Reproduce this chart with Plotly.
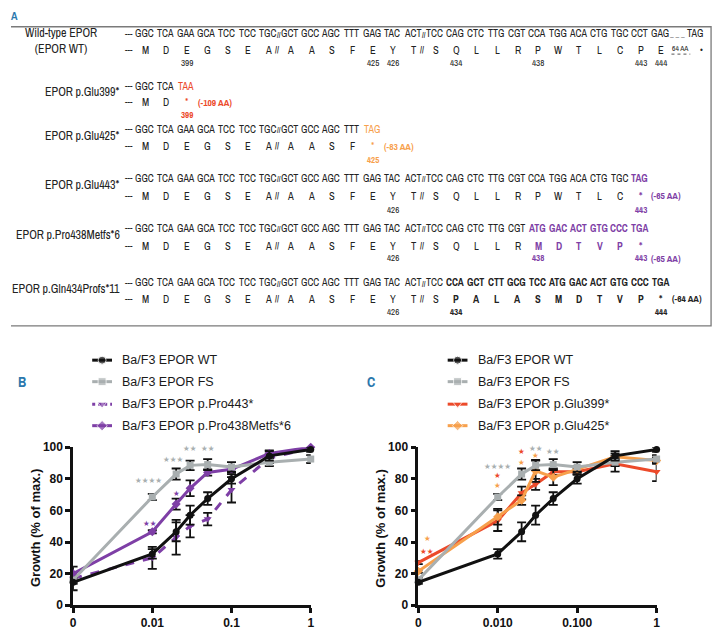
import math
import plotly.graph_objects as go

W, H = 722, 638
OFF = 8                      # default page margin of the html body
FW, FH = W - OFF, H - OFF    # figure size so the page fits the window

# ---------------- Panel A data ----------------
WT_CODONS = ["GGC", "TCA", "GAA", "GCA", "TCC", "TCC", "TGC", "GCT", "GCC", "AGC", "TTT", "GAG", "TAC",
             "ACT", "TCC", "CAG", "CTC", "TTG", "CGT", "CCA", "TGG", "ACA", "CTG", "TGC", "CCT", "GAG"]
WT_AA = ["M", "D", "E", "G", "S", "E", "A", "A", "A", "S", "F", "E", "Y",
         "T", "S", "Q", "L", "L", "R", "P", "W", "T", "L", "C", "P", "E"]
WT_RESIDUES = [397, 398, 399, 400, 401, 402, 403, 421, 422, 423, 424, 425, 426,
               427, 433, 434, 435, 436, 437, 438, 439, 440, 441, 442, 443, 444]

ROW_LABELS = ["Wild-type EPOR<br>(EPOR WT)", "EPOR p.Glu399*", "EPOR p.Glu425*", "EPOR p.Glu443*",
              "EPOR p.Pro438Metfs*6", "EPOR p.Gln434Profs*11"]
ROW_KEEP = [26, 2, 11, 24, 19, 15]
ROW_MUT_CODONS = [[], ["TAA"], ["TAG"], ["TAG"],
                  ["ATG", "GAC", "ACT", "GTG", "CCC", "TGA"],
                  ["CCA", "GCT", "CTT", "GCG", "TCC", "ATG", "GAC", "ACT", "GTG", "CCC", "TGA"]]
ROW_MUT_AA = [[], ["*"], ["*"], ["*"],
              ["M", "D", "T", "V", "P", "*"],
              ["P", "A", "L", "A", "S", "M", "D", "T", "V", "P", "*"]]
ROW_NUMBERS = [[399, 425, 426, 434, 438, 443, 444], [399], [425], [426, 443], [426, 438, 443], [426, 434, 444]]
ROW_LOSS = ["", "(-109 AA)", "(-83 AA)", "(-65 AA)", "(-65 AA)", "(-64 AA)"]

# ---------------- Panels B / C data ----------------
DOSES = [0, 0.01, 0.02, 0.03, 0.05, 0.1, 0.3, 1]
WT = [14.5, 32.5, 46.5, 57, 67.5, 80, 94.5, 98.5]
WT_ERR = [1, 3, 6, 6, 4, 3, 3, 1.5]
FS = [16, 68.5, 83, 88.5, 89, 87.5, 90.5, 92.5]
FS_ERR = [1.5, 2, 3.5, 3, 3.5, 3, 2.5, 2.5]
PRO443 = [17, 30, 43, 50, 54.5, 73, 93, 99.5]
PRO443_ERR = [7.5, 7, 11, 7, 4, 8, 3, 1.5]
PRO438 = [20, 46.5, 64, 74, 84, 86, 96, 100]
PRO438_ERR = [1, 1, 3.5, 5, 2, 2, 2, 1]
GLU399 = [27, 53.5, 71, 76.5, 84.5, 84.5, 89.5, 84.5]
GLU399_ERR = [1, 6.5, 4, 3.5, 2, 2, 5, 6]
GLU425 = [21.5, 56, 66.5, 85, 81, 86, 94, 91.5]
GLU425_ERR = [1, 5, 3, 7, 5, 2, 2, 2]

# significance marks: (dose, y-value, text, colour key)
STARS_B = [(0.009, 79, "★★★★", "fs"), (0.018, 92, "★★★", "fs"), (0.03, 99, "★★", "fs"),
           (0.05, 99, "★★", "fs"), (0.02, 71, "★", "pur"), (0.0093, 52, "★★", "pur")]
STARS_C = [(0.01, 88, "★★★★", "fs"), (0.01, 82, "★", "red"), (0.01, 76, "★", "org"),
           (0.02, 104, "★★★", "fs"), (0.02, 97, "★", "red"), (0.02, 90.5, "★", "org"),
           (0.03, 99, "★★", "fs"), (0.03, 94.5, "★", "org"), (0.05, 97, "★★", "fs"),
           (0.0013, 42, "★", "org"), (0.0013, 34, "★★", "red")]

ZERO_POS = 0.001  # where dose 0 is drawn on the log axis

COL = {"wt": "#111111", "fs": "#a9afb0", "pur": "#7e3fa6", "red": "#ec4a2a", "org": "#f7a04c"}
BLUE = "#2b78ad"
DARK = "#222222"
FONT_A = "Archivo Narrow, Liberation Sans Narrow, Liberation Sans, Arial, sans-serif"
FONT_B = "Liberation Sans, Arial, sans-serif"


def dx(px):
    return (px - OFF) / FW


def dy(py):
    return 1 - (py - OFF) / FH


xd = [d if d > 0 else ZERO_POS for d in DOSES]

fig = go.Figure()

SERIES_B = [("Ba/F3 EPOR p.Pro443*", PRO443, PRO443_ERR, "pur", "triangle-down", "dash"),
            ("Ba/F3 EPOR p.Pro438Metfs*6", PRO438, PRO438_ERR, "pur", "diamond", "solid"),
            ("Ba/F3 EPOR FS", FS, FS_ERR, "fs", "square", "solid"),
            ("Ba/F3 EPOR WT", WT, WT_ERR, "wt", "circle", "solid")]
SERIES_C = [("Ba/F3 EPOR p.Glu399*", GLU399, GLU399_ERR, "red", "triangle-down", "solid"),
            ("Ba/F3 EPOR p.Glu425*", GLU425, GLU425_ERR, "org", "diamond", "solid"),
            ("Ba/F3 EPOR FS", FS, FS_ERR, "fs", "square", "solid"),
            ("Ba/F3 EPOR WT", WT, WT_ERR, "wt", "circle", "solid")]

for series, xa, ya in [(SERIES_B, "x", "y"), (SERIES_C, "x2", "y2")]:
    for name, vals, err, ck, sym, dash in series:
        fig.add_trace(go.Scatter(
            x=xd, y=vals, mode="lines+markers", name=name, xaxis=xa, yaxis=ya,
            line=dict(color=COL[ck], width=3, dash="dash" if dash == "dash" else None),
            marker=dict(color=COL[ck], symbol=sym, size=7),
            error_y=dict(type="data", array=err, visible=True, color="#111111", thickness=1.8, width=4.5),
            cliponaxis=False, showlegend=False, hoverinfo="skip"))

ann = []


def txt(x, y, s, size=10, color=DARK, bold=False, xanchor="center", family=FONT_A, angle=0):
    ann.append(dict(x=x, y=y, xref="x3", yref="y3", text=s, showarrow=False, xanchor=xanchor,
                    yanchor="middle", textangle=angle,
                    font=dict(family=family, size=size, color=color, weight="bold" if bold else "normal")))


# ---------------- Panel A drawing ----------------
def cx(i):
    return 144 + 20.7 * (i - 1) + 1.5 * (i >= 8) + 1.5 * (i >= 15)


ROW_Y = [(27, 44, 57), (81, 97, 110), (125, 142, 156), (175, 193, 207), (226, 244, 257), (282, 298, 312)]
ROW_COL = [DARK, COL["red"], COL["org"], COL["pur"], COL["pur"], DARK]
ROW_BOLD = [False, False, False, True, True, True]

txt(12, 9, "A", size=11, color=BLUE, bold=True)
for r in range(6):
    yc, ya, yn = ROW_Y[r]
    keep = ROW_KEEP[r]
    codons = WT_CODONS[:keep] + ROW_MUT_CODONS[r]
    aas = WT_AA[:keep] + ROW_MUT_AA[r]
    if r == 0:
        txt(20, 35, "Wild-type EPOR<br>(EPOR WT)", size=12, xanchor="left")
    else:
        txt(120, (yc + ya) / 2 - 2, ROW_LABELS[r], size=12, xanchor="right")
    txt(127, yc, "---", size=9)
    txt(127, ya, "---", size=9)
    for i, c in enumerate(codons):
        mut = (i + 1) > keep
        txt(cx(i + 1) - 1, yc, c, size=10, color=ROW_COL[r] if mut else DARK, bold=mut and ROW_BOLD[r])
    for i, a in enumerate(aas):
        mut = (i + 1) > keep
        txt(cx(i + 1), ya, a, size=10.5, color=ROW_COL[r] if mut else DARK, bold=mut and ROW_BOLD[r])
    n = len(codons)
    for sp, need in [(7, 8), (14, 15)]:
        if n >= need:
            txt(cx(sp) + 10.5, yc, "//", size=7.5, bold=True)
            txt(cx(sp) + 8, ya, "//", size=8.5, bold=True)
    for res in ROW_NUMBERS[r]:
        pos = WT_RESIDUES.index(res) + 1
        mut = pos > keep
        txt(cx(pos), yn, str(res), size=9, color=ROW_COL[r] if mut else DARK, bold=mut)
    if ROW_LOSS[r]:
        yl = yn if r == 4 else ya
        txt(cx(n) + 9, yl, ROW_LOSS[r], size=9.5, color=ROW_COL[r], bold=True, xanchor="left")
# WT tail
txt(681, 27, "_ _ _", size=8)
txt(699, 27, "TAG", size=10)
txt(684, 42, "64 AA", size=7.5)
txt(705, 44, "•", size=10)

shapes = [dict(type="rect", xref="x3", yref="y3", x0=5, y0=20, x1=715, y1=326,
               line=dict(color="#7a7a7a", width=1.3)),
          dict(type="line", xref="x3", yref="y3", x0=675, x1=694, y0=48, y1=48,
               line=dict(color="#555", width=1, dash="dot"))]

# ---------------- Legends (manual) ----------------
LEG_B = [("Ba/F3 EPOR WT", "wt", "circle", "solid"), ("Ba/F3 EPOR FS", "fs", "square", "solid"),
         ("Ba/F3 EPOR p.Pro443*", "pur", "triangle-down", "dot"),
         ("Ba/F3 EPOR p.Pro438Metfs*6", "pur", "diamond", "solid")]
LEG_C = [("Ba/F3 EPOR WT", "wt", "circle", "solid"), ("Ba/F3 EPOR FS", "fs", "square", "solid"),
         ("Ba/F3 EPOR p.Glu399*", "red", "triangle-down", "solid"),
         ("Ba/F3 EPOR p.Glu425*", "org", "diamond", "solid")]
LEG_Y = [361, 383, 406, 428]
for entries, gx, tx in [(LEG_B, 90, 118), (LEG_C, 449, 478)]:
    for (name, ck, sym, dash), ly in zip(entries, LEG_Y):
        fig.add_trace(go.Scatter(x=[gx, gx + 10, gx + 20], y=[ly, ly, ly], mode="lines+markers",
                                 xaxis="x3", yaxis="y3", showlegend=False, hoverinfo="skip",
                                 line=dict(color=COL[ck], width=3, dash=dash),
                                 marker=dict(color=COL[ck], symbol=sym, size=[0, 8, 0])))
        txt(tx, ly, name, size=12.5, family=FONT_B, xanchor="left", color="#1a1a1a")
txt(19, 383, "B", size=14, color=BLUE, bold=True, family=FONT_A)
txt(372, 383, "C", size=14, color=BLUE, bold=True, family=FONT_A)

# axis titles
txt(33, 533, "Growth (% of max.)", size=13, family=FONT_B, bold=True, angle=-90, color="#111")
txt(381, 533, "Growth (% of max.)", size=13, family=FONT_B, bold=True, angle=-90, color="#111")

# significance marks
for stars, xr, yr in [(STARS_B, "x", "y"), (STARS_C, "x2", "y2")]:
    for d, v, s, ck in stars:
        ann.append(dict(x=math.log10(d), y=v, xref=xr, yref=yr, text=s, showarrow=False,
                        font=dict(family="DejaVu Sans", size=7.5, color=COL[ck])))

y_dom = [dy(611.7), dy(450)]
axis_common = dict(showline=True, linecolor="#111", linewidth=2.5, ticks="outside", ticklen=5,
                   tickwidth=2.5, tickcolor="#111", showgrid=False, zeroline=False, fixedrange=True,
                   tickfont=dict(family=FONT_B, size=12, color="#111", weight="bold"))
fig.update_layout(
    width=FW, height=FH, margin=dict(l=0, r=0, t=0, b=0),
    paper_bgcolor="white", plot_bgcolor="rgba(0,0,0,0)", showlegend=False,
    xaxis=dict(domain=[dx(70.7), dx(310.7)], type="log", range=[-3, 0], anchor="y",
               tickvals=[0.001, 0.01, 0.1, 1], ticktext=["0", "0.01", "0.1", "1"], **axis_common),
    yaxis=dict(domain=y_dom, range=[0, 100], anchor="x", tickvals=[0, 20, 40, 60, 80, 100], **axis_common),
    xaxis2=dict(domain=[dx(419.3), dx(660)], type="log", range=[-3, 0], anchor="y2",
                tickvals=[0.001, 0.01, 0.1, 1], ticktext=["0", "0.010", "0.100", "1"], **axis_common),
    yaxis2=dict(domain=y_dom, range=[0, 100], anchor="x2", tickvals=[0, 20, 40, 60, 80, 100], **axis_common),
    xaxis3=dict(domain=[0, 1], range=[OFF, W], anchor="y3", visible=False, fixedrange=True),
    yaxis3=dict(domain=[0, 1], range=[H, OFF], anchor="x3", visible=False, fixedrange=True),
    annotations=ann, shapes=shapes,
)

fig.write_html("out.html")
